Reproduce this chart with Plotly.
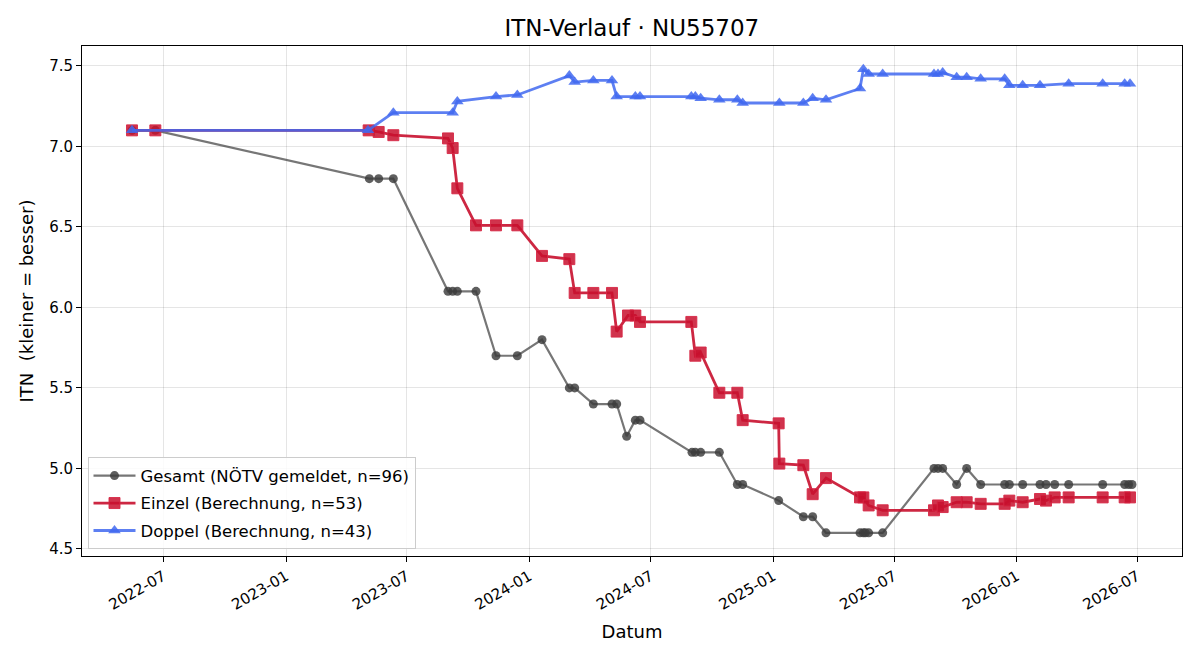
import pandas as pd
import plotly.graph_objects as go

# ---- data ----
gesamt_dates = [
    "2022-05-15", "2022-06-19", "2023-05-06", "2023-05-20", "2023-06-11",
    "2023-09-01", "2023-09-08", "2023-09-15", "2023-10-13", "2023-11-12",
    "2023-12-14", "2024-01-20", "2024-03-01", "2024-03-09", "2024-04-06",
    "2024-05-04", "2024-05-11", "2024-05-26", "2024-06-08", "2024-06-15",
    "2024-09-01", "2024-09-06", "2024-09-14", "2024-10-12", "2024-11-08",
    "2024-11-16", "2025-01-09", "2025-02-15", "2025-03-01", "2025-03-21",
    "2025-05-11", "2025-05-16", "2025-05-19", "2025-05-24", "2025-06-14",
    "2025-08-30", "2025-09-05", "2025-09-12", "2025-10-03", "2025-10-18",
    "2025-11-08", "2025-12-14", "2025-12-21", "2026-01-10", "2026-02-05",
    "2026-02-14", "2026-02-27", "2026-03-20", "2026-05-10", "2026-06-12",
    "2026-06-18", "2026-06-23",
]
gesamt_vals = [
    7.1, 7.1, 6.8, 6.8, 6.8,
    6.1, 6.1, 6.1, 6.1, 5.7,
    5.7, 5.8, 5.5, 5.5, 5.4,
    5.4, 5.4, 5.2, 5.3, 5.3,
    5.1, 5.1, 5.1, 5.1, 4.9,
    4.9, 4.8, 4.7, 4.7, 4.6,
    4.6, 4.6, 4.6, 4.6, 4.6,
    5.0, 5.0, 5.0, 4.9, 5.0,
    4.9, 4.9, 4.9, 4.9, 4.9,
    4.9, 4.9, 4.9, 4.9, 4.9,
    4.9, 4.9,
]

einzel_dates = [
    "2022-05-15", "2022-06-19", "2023-05-05", "2023-05-20", "2023-06-11",
    "2023-09-01", "2023-09-08", "2023-09-15", "2023-10-13", "2023-11-12",
    "2023-12-14", "2024-01-20", "2024-03-01", "2024-03-09", "2024-04-06",
    "2024-05-04", "2024-05-11", "2024-05-28", "2024-06-08", "2024-06-15",
    "2024-08-31", "2024-09-06", "2024-09-14", "2024-10-12", "2024-11-08",
    "2024-11-16", "2025-01-09", "2025-01-10", "2025-02-15", "2025-03-01",
    "2025-03-21", "2025-05-11", "2025-05-16", "2025-05-24", "2025-06-14",
    "2025-08-30", "2025-09-05", "2025-09-12", "2025-10-03", "2025-10-18",
    "2025-11-08", "2025-12-14", "2025-12-21", "2026-01-10", "2026-02-05",
    "2026-02-14", "2026-02-27", "2026-03-20", "2026-05-10", "2026-06-12",
    "2026-06-20",
]
einzel_vals = [
    7.10, 7.10, 7.10, 7.09, 7.07,
    7.05, 6.99, 6.74, 6.51, 6.51,
    6.51, 6.32, 6.30, 6.09, 6.09,
    6.09, 5.85, 5.95, 5.95, 5.91,
    5.91, 5.70, 5.72, 5.47, 5.47,
    5.30, 5.28, 5.03, 5.02, 4.84,
    4.94, 4.82, 4.82, 4.77, 4.74,
    4.74, 4.77, 4.76, 4.79, 4.79,
    4.78, 4.78, 4.80, 4.79, 4.81,
    4.80, 4.82, 4.82, 4.82, 4.82,
    4.82,
]

doppel_dates = [
    "2022-05-15", "2023-05-04", "2023-06-11", "2023-09-08", "2023-09-15",
    "2023-11-12", "2023-12-14", "2024-03-01", "2024-03-09", "2024-04-06",
    "2024-05-04", "2024-05-11", "2024-06-08", "2024-06-15", "2024-08-31",
    "2024-09-06", "2024-09-14", "2024-10-12", "2024-11-08", "2024-11-16",
    "2025-01-10", "2025-02-15", "2025-03-01", "2025-03-21", "2025-05-11",
    "2025-05-16", "2025-05-24", "2025-06-14", "2025-08-30", "2025-09-05",
    "2025-09-12", "2025-10-03", "2025-10-18", "2025-11-08", "2025-12-14",
    "2025-12-21", "2026-01-10", "2026-02-05", "2026-03-20", "2026-05-10",
    "2026-06-12", "2026-06-20",
]
doppel_vals = [
    7.10, 7.10, 7.21, 7.21, 7.28,
    7.31, 7.32, 7.44, 7.40, 7.41,
    7.41, 7.31, 7.31, 7.31, 7.31,
    7.31, 7.30, 7.29, 7.29, 7.27,
    7.27, 7.27, 7.30, 7.29, 7.36,
    7.48, 7.45, 7.45, 7.45, 7.45,
    7.46, 7.43, 7.43, 7.42, 7.42,
    7.38, 7.38, 7.38, 7.39, 7.39,
    7.39, 7.39,
]

legend_names = [
    "Gesamt (NÖTV gemeldet, n=96)",
    "Einzel (Berechnung, n=53)",
    "Doppel (Berechnung, n=43)",
]
title_text = "ITN-Verlauf · NU55707"
x_title = "Datum"
y_title = "ITN \u00a0(kleiner = besser)"

FONT = "DejaVu Sans"

fig = go.Figure()

fig.add_trace(go.Scatter(
    x=pd.to_datetime(gesamt_dates), y=gesamt_vals, name=legend_names[0],
    legendgroup="g", mode="lines+markers",
    line=dict(color="rgba(65,65,65,0.72)", width=2.2),
    marker=dict(symbol="circle", size=9, color="rgba(60,60,60,0.82)",
                line=dict(width=0)),
))
fig.add_trace(go.Scatter(
    x=pd.to_datetime(einzel_dates), y=einzel_vals, name=legend_names[1],
    legendgroup="e", mode="lines+markers",
    line=dict(color="rgba(200,16,46,0.9)", width=2.8),
    marker=dict(symbol="square", size=11, color="rgba(200,16,46,0.85)",
                line=dict(width=1, color="rgba(215,40,70,0.9)")),
))
fig.add_trace(go.Scatter(
    x=pd.to_datetime(doppel_dates), y=doppel_vals, name=legend_names[2],
    legendgroup="d", mode="lines+markers",
    line=dict(color="rgba(65,105,240,0.85)", width=2.8),
    marker=dict(symbol="triangle-up", size=11, color="rgba(65,105,240,0.85)",
                line=dict(width=0)),
))

# axis ranges with 5% padding (like matplotlib defaults)
all_dates = pd.to_datetime(gesamt_dates + einzel_dates + doppel_dates)
dmin, dmax = all_dates.min(), all_dates.max()
pad = (dmax - dmin) * 0.05
all_vals = gesamt_vals + einzel_vals + doppel_vals
vmin, vmax = min(all_vals), max(all_vals)
vpad = (vmax - vmin) * 0.05

axis_common = dict(
    showline=True, linecolor="black", linewidth=1, mirror=True,
    ticks="outside", ticklen=5, tickcolor="black", tickwidth=1,
    showgrid=True, gridcolor="rgba(0,0,0,0.1)", gridwidth=1,
    zeroline=False,
    tickfont=dict(family=FONT, size=15, color="black"),
    title_font=dict(family=FONT, size=18, color="black"),
)

fig.update_xaxes(
    range=[dmin - pad, dmax + pad],
    tick0="2022-07-01", dtick="M6", tickformat="%Y-%m", tickangle=-30,
    title_text=x_title, title_standoff=12,
    **axis_common,
)
fig.update_yaxes(
    range=[vmin - vpad, vmax + vpad],
    tick0=4.5, dtick=0.5, tickformat=".1f",
    title_text=y_title, title_standoff=10,
    **axis_common,
)

fig.update_layout(
    width=1200, height=660,
    margin=dict(l=82, r=18, t=46, b=104),
    paper_bgcolor="white", plot_bgcolor="white",
    font=dict(family=FONT, size=15, color="black"),
    title=dict(text=title_text, x=0.5265, xanchor="center",
               y=1 - 28 / 660, yref="container", yanchor="middle",
               font=dict(family=FONT, size=23, color="black")),
    legend=dict(
        x=0.005, y=0.013, xanchor="left", yanchor="bottom",
        bgcolor="rgba(255,255,255,0.85)", bordercolor="#cccccc", borderwidth=1,
        font=dict(family=FONT, size=16.5, color="black"),
        itemwidth=42, traceorder="grouped", tracegroupgap=3,
    ),
    showlegend=True,
)

fig.write_html("out.html")
